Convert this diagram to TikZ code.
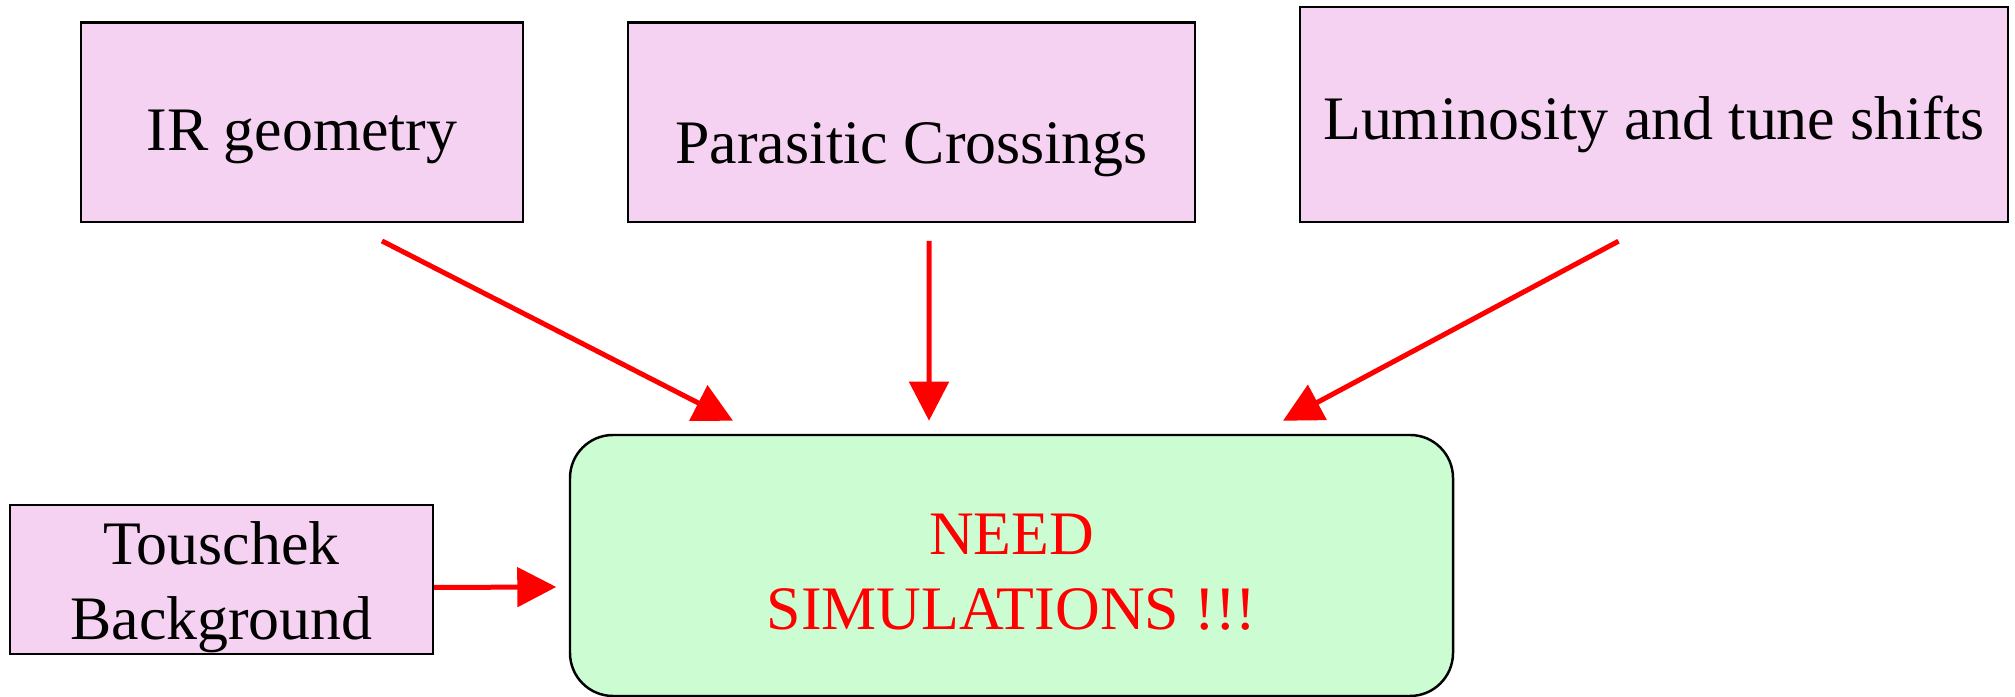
\documentclass[tikz,border=0pt]{standalone}
\usepackage{fontspec}
\setmainfont{Liberation Serif}
\usetikzlibrary{arrows.meta}
\definecolor{boxpink}{HTML}{F6D2F2}
\definecolor{simgreen}{HTML}{CCFCD2}
\tikzset{
  topic/.style={draw, line width=0.7pt, fill=boxpink, inner sep=0pt, text depth=0.14cm},
  feed/.style={red, line width=0.05cm, -{Triangle[length=0.39cm,width=0.39cm]}}
}
\begin{document}
\begin{tikzpicture}[font=\fontsize{17.6}{21.34}\selectfont]
\useasboundingbox (0,0) rectangle (20.15,6.97);
\node[topic, minimum width=4.42cm, minimum height=1.995cm, text height=0.70cm] (ir) at (3.02,5.745) {IR geometry};
\node[topic, minimum width=5.67cm, minimum height=1.995cm, text height=0.96cm] (para) at (9.115,5.745) {Parasitic Crossings};
\node[topic, minimum width=7.08cm, minimum height=2.15cm, text height=0.65cm] (lumi) at (16.54,5.825) {Luminosity and tune shifts};
\node[topic, align=center, minimum width=4.23cm, minimum height=1.49cm, text height=1.34cm] (tous) at (2.215,1.175) {Touschek\\Background};
\node[draw, line width=0.7pt, fill=simgreen, rounded corners=0.43cm, text=red, align=center, inner sep=0pt,
  minimum width=8.83cm, minimum height=2.61cm, text height=1.43cm, text depth=0.14cm] (sim) at (10.115,1.315) {NEED\\SIMULATIONS !!!};
\foreach \from/\fx/\fy/\tx in {ir/0.80/-0.175/-2.785, para/0.175/-0.175/-0.825, lumi/-0.355/-0.18/2.715}
  \draw[feed] ([shift={(\fx,\fy)}]\from.south) -- ([shift={(\tx,0.13)}]sim.north);
\draw[feed] ([yshift=-0.08cm]tous.east) -- ([shift={(-0.125,-0.215)}]sim.west);
\end{tikzpicture}
\end{document}
